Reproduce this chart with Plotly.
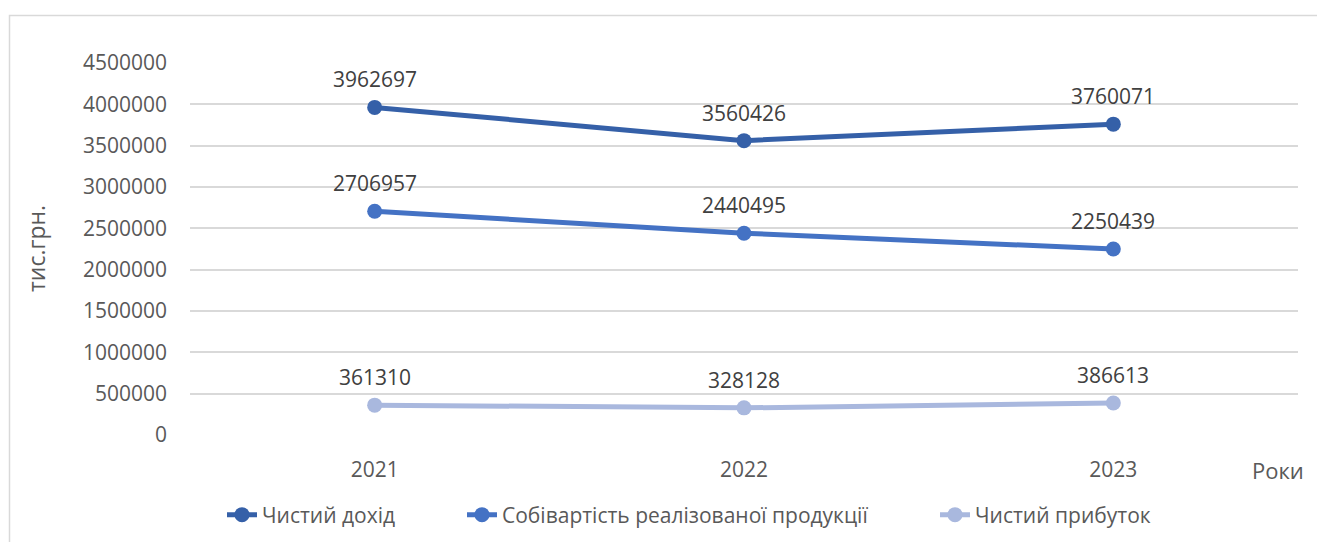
import plotly.graph_objects as go

years = ["2021", "2022", "2023"]
net_income = [3962697, 3560426, 3760071]
cost_of_sales = [2706957, 2440495, 2250439]
net_profit = [361310, 328128, 386613]

series_names = ["Чистий дохід", "Собівартість реалізованої продукції", "Чистий прибуток"]
series_values = [net_income, cost_of_sales, net_profit]
series_colors = ["#3560A8", "#4472C4", "#A9B8DE"]

y_ticks = [0, 500000, 1000000, 1500000, 2000000, 2500000, 3000000, 3500000, 4000000, 4500000]

W, H = 1317, 542
L, R, T, B = 190, 19, 63, 107
pw, ph = W - L - R, H - T - B

def px_x(p):
    return (p - L) / pw

def px_y(p):
    return (H - B - p) / ph

tick_font = dict(family="Open Sans", size=21, color="#595959")
label_font = dict(family="Open Sans", size=21, color="#404040")
legend_font = dict(family="Liberation Sans Narrow, Open Sans", size=21, color="#595959")

# each series gets its own legend box so the entries can be spaced freely
legend_ids = ["legend", "legend2", "legend3"]
legend_left_px = [222, 462, 935]

fig = go.Figure()
annotations = []
for name, vals, col, lg in zip(series_names, series_values, series_colors, legend_ids):
    fig.add_trace(go.Scatter(
        x=years, y=vals, name=name, mode="lines+markers",
        legend=lg,
        line=dict(color=col, width=5),
        marker=dict(color=col, size=15),
    ))
    # value labels above each point (category position = index)
    for i, v in enumerate(vals):
        annotations.append(dict(
            x=i, y=v, xref="x", yref="y", text=str(v), showarrow=False,
            yshift=28, font=label_font,
        ))

annotations.append(dict(
    x=px_x(36), y=0.5, xref="paper", yref="paper", text="тис.грн.",
    textangle=-90, showarrow=False, xanchor="center", yanchor="middle",
    font=dict(family="Open Sans", size=23, color="#595959"),
))
annotations.append(dict(
    x=px_x(1278), y=px_y(470), xref="paper", yref="paper", text="Роки",
    showarrow=False, xanchor="center", yanchor="middle",
    font=dict(family="Open Sans", size=22, color="#595959"),
))

legend_layout = {}
for lg, left in zip(legend_ids, legend_left_px):
    legend_layout[lg] = dict(
        orientation="h", x=px_x(left), xanchor="left", y=px_y(515), yanchor="middle",
        font=legend_font, bgcolor="rgba(0,0,0,0)",
    )

fig.update_layout(
    width=W, height=H,
    margin=dict(l=L, r=R, t=T, b=B, autoexpand=False),
    paper_bgcolor="white", plot_bgcolor="white",
    showlegend=True,
    annotations=annotations,
    shapes=[dict(
        type="rect", xref="paper", yref="paper",
        x0=px_x(9.5), x1=px_x(1330), y0=px_y(560), y1=px_y(15.5),
        line=dict(color="#D9D9D9", width=1.5), fillcolor="rgba(0,0,0,0)", layer="below",
    )],
    xaxis=dict(
        type="category", range=[-0.5, 2.5], showgrid=False, zeroline=False,
        showline=False, ticks="", tickfont=tick_font, ticklabelstandoff=20,
    ),
    yaxis=dict(
        range=[0, 4500000], tickvals=y_ticks, ticktext=[str(v) for v in y_ticks],
        showgrid=True, gridcolor="#D9D9D9", gridwidth=1.5, zeroline=False,
        showline=False, ticks="", tickfont=tick_font, ticklabelstandoff=22,
    ),
    **legend_layout,
)

fig.write_html("out.html")
